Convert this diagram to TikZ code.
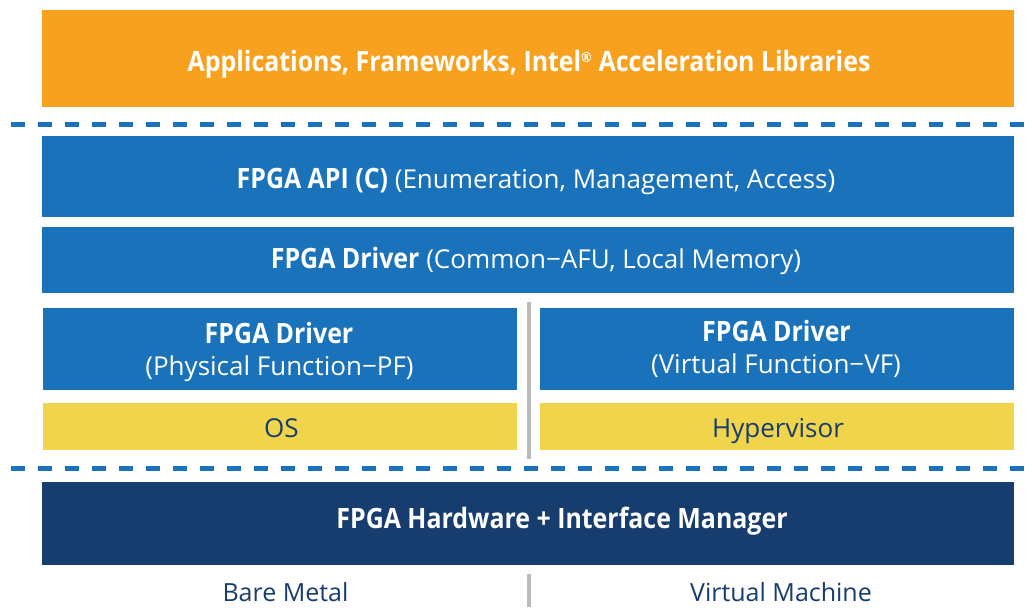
\documentclass[tikz,border=0pt]{standalone}
\usepackage{fontspec}
\setmainfont{Open Sans}[BoldFeatures={FakeStretch=0.89}]
\definecolor{orng}{RGB}{247,161,31}
\definecolor{iblue}{RGB}{26,115,186}
\definecolor{navy}{RGB}{22,61,110}
\definecolor{ylw}{RGB}{240,212,76}
\definecolor{gline}{RGB}{187,187,187}
\newcommand\bftext[1]{{\fontsize{28}{30}\selectfont\bfseries #1}}
\begin{document}
\begin{tikzpicture}[x=1pt,y=-1pt,
  layer/.style={draw=none,fill=#1,inner sep=0pt,anchor=north west},
  txt/.style={text=white,inner sep=0pt,anchor=base,font=\fontsize{26}{30}\selectfont},
  dtxt/.style={txt,text=navy},
  foot/.style={txt,text=navy,font=\fontsize{25}{28}\selectfont},
  sep/.style={draw=iblue,line width=5pt,dash pattern=on 13.5pt off 13.5pt},
  vsep/.style={draw=gline,line width=4pt}]
\useasboundingbox (0,0) rectangle (1032,607);
% boxes
\node[layer=orng,minimum width=972pt,minimum height=97pt] (app) at (42,10) {};
\node[layer=iblue,minimum width=972pt,minimum height=81pt] (api) at (42,136) {};
\node[layer=iblue,minimum width=972pt,minimum height=66pt] (drv) at (42,226.5) {};
\node[layer=iblue,minimum width=474pt,minimum height=82pt] (pf) at (43,308) {};
\node[layer=iblue,minimum width=474pt,minimum height=82pt] (vf) at (540,308) {};
\node[layer=ylw,minimum width=474pt,minimum height=47pt] (os) at (43,403) {};
\node[layer=ylw,minimum width=474pt,minimum height=47pt] (hyp) at (540,403) {};
\node[layer=navy,minimum width=972pt,minimum height=83pt] (hw) at (42,482) {};
% texts
\node[txt] (appT) at (529,71.7) {\bftext{Applications, Frameworks, Intel\textsuperscript{\fontsize{14}{14}\selectfont®} Acceleration Libraries}};
\node[txt] (apiT) at (536,188) {\bftext{FPGA API (C)} (Enumeration, Management, Access)};
\node[txt] (drvT) at (536,268) {\bftext{FPGA Driver} (Common−AFU, Local Memory)};
\node[txt] (pfT1) at (279,343) {\bftext{FPGA Driver}};
\node[txt] (pfT2) at (279.5,375) {(Physical Function−PF)};
\node[txt] (vfT1) at (776.5,341.7) {\bftext{FPGA Driver}};
\node[txt] (vfT2) at (776,373) {(Virtual Function−VF)};
\node[dtxt] (osT) at (281.5,437) {OS};
\node[dtxt] (hypT) at (778,437) {Hypervisor};
\node[txt] (hwT) at (562,528) {\bftext{FPGA Hardware + Interface Manager}};
\node[foot] (bm) at (285.5,601.7) {Bare Metal};
\node[foot] (vm) at (781,601.7) {Virtual Machine};
% separators
\coordinate (s1a) at (11,124); \coordinate (s1b) at (1032,124);
\coordinate (s2a) at (11,468); \coordinate (s2b) at (1032,468);
\draw[sep] (s1a) -- (s1b);
\draw[sep] (s2a) -- (s2b);
\coordinate (v1a) at (529,302); \coordinate (v1b) at (529,459);
\coordinate (v2a) at (529,574); \coordinate (v2b) at (529,607);
\draw[vsep] (v1a) -- (v1b);
\draw[vsep] (v2a) -- (v2b);
\end{tikzpicture}
\end{document}
